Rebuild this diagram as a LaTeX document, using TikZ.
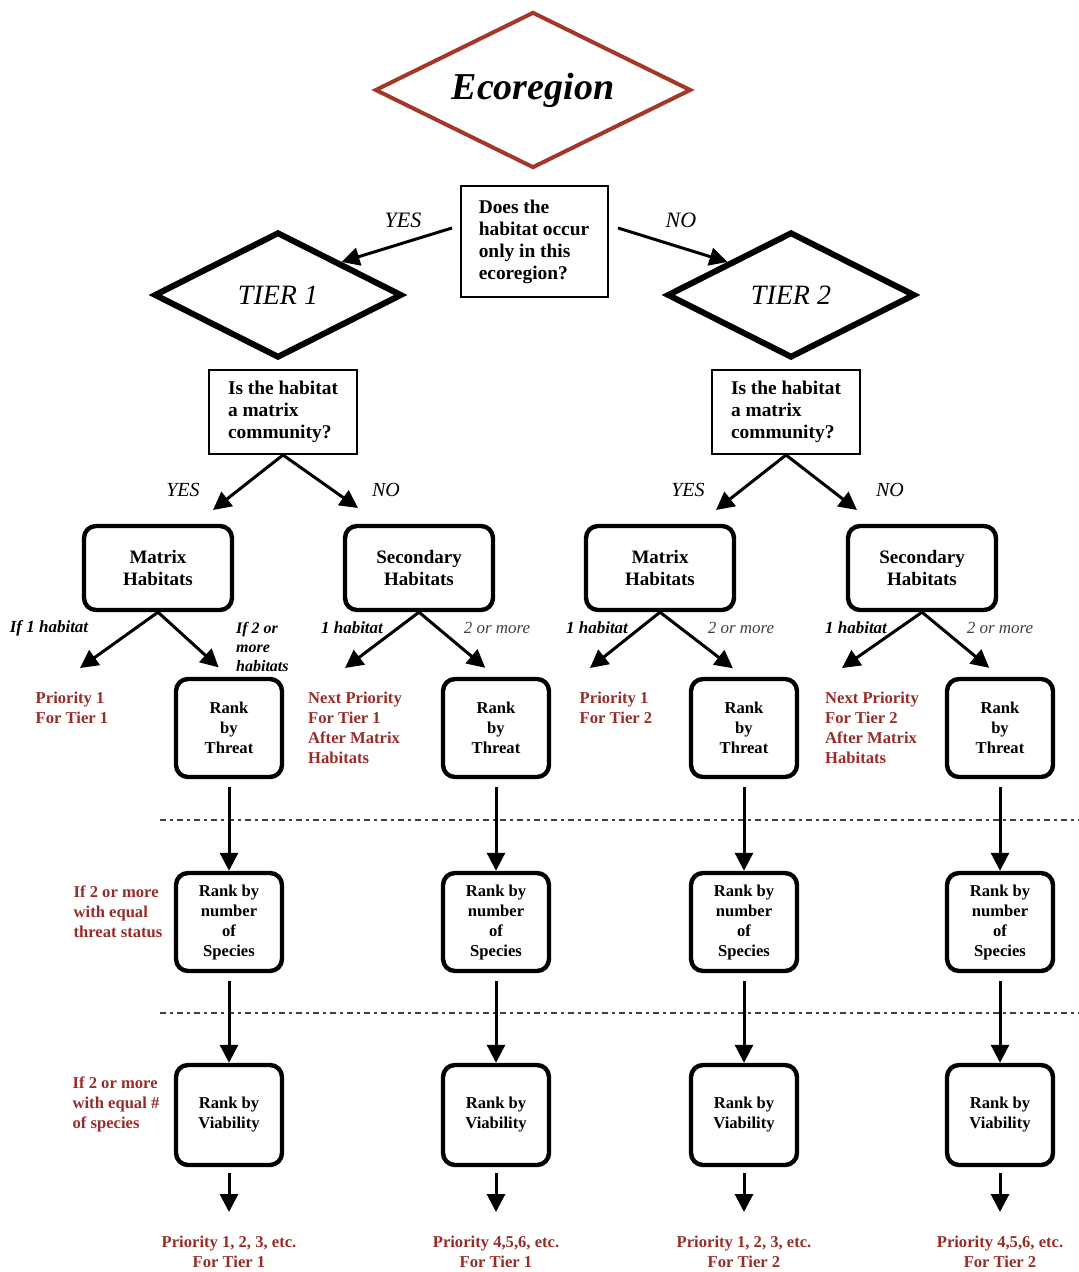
\documentclass[tikz,border=0pt]{standalone}
\usepackage{fontspec}
\setmainfont{Liberation Serif}
\usepackage{tikz}
\usetikzlibrary{arrows.meta}
\usetikzlibrary{shapes.geometric}

\definecolor{prio}{RGB}{150,45,40}
\definecolor{ecoline}{RGB}{165,55,40}

\begin{document}
\begin{tikzpicture}[x=0.5pt,y=-0.5pt,
  >={Triangle[length=9pt,width=9pt]},line width=1.5pt,
  tier/.style={diamond,draw,line width=3pt,inner sep=0pt,aspect=2,minimum width=124pt,minimum height=63pt,font=\fontsize{14}{16}\selectfont\itshape},
  ask/.style={draw,rectangle,line width=1pt,align=left,minimum width=74pt,minimum height=42pt,font=\fontsize{9.7}{11}\selectfont\bfseries},
  hab/.style={draw,rectangle,rounded corners=6pt,line width=2.2pt,align=center,minimum width=74pt,minimum height=42pt,font=\fontsize{9.5}{11}\selectfont\bfseries},
  rankbox/.style={draw,rectangle,rounded corners=6pt,line width=2.2pt,align=center,minimum width=53pt,minimum height=49pt,font=\fontsize{8.3}{10}\selectfont\bfseries},
  answer/.style={font=\fontsize{10}{12}\selectfont\itshape},
  branch/.style={font=\fontsize{8.5}{10}\selectfont\bfseries\itshape},
  more/.style={text=black!75,font=\fontsize{8.5}{10}\selectfont\itshape},
  prio/.style={text=prio,align=left,font=\fontsize{8.3}{10}\selectfont\bfseries}]
  \tikzstyle{flow}=[->,line width=1.5pt]

  \useasboundingbox (0,0) rectangle (1079,1272);

  % top of the tree
  \node[diamond,draw=ecoline,line width=2pt,inner sep=0pt,aspect=2,minimum width=158pt,minimum height=78pt,
    font=\fontsize{19}{22}\selectfont\bfseries\itshape] (eco) at (533,90) {Ecoregion};
  \node[ask,minimum width=73.5pt,minimum height=55.5pt] (q0) at (534,242)
    {Does the\\habitat occur\\only in this\\ecoregion?};
  \node[tier] (tier1) at (278,295) {TIER 1};
  \node[tier] (tier2) at (791,295) {TIER 2};
  \coordinate (q0yes) at (452,228);
  \coordinate (q0no) at (618,228);
  \draw[flow] (q0yes) -- (tier1.north east);
  \draw[flow] (q0no) -- (tier2.north west);
  \node[answer,font=\fontsize{11}{13}\selectfont\itshape] (yes0) at (403,220) {YES};
  \node[answer,font=\fontsize{11}{13}\selectfont\itshape] (no0) at (681,220) {NO};

  % matrix question
  \node[ask] (q1) at (283,412) {Is the habitat\\a matrix\\community?};
  \node[ask] (q2) at (786,412) {Is the habitat\\a matrix\\community?};
  \coordinate (q1yes) at (213,510);
  \coordinate (q1no) at (358,508);
  \coordinate (q2yes) at (716,510);
  \coordinate (q2no) at (857,510);
  \draw[flow] (q1.south) -- (q1yes);
  \draw[flow] (q1.south) -- (q1no);
  \draw[flow] (q2.south) -- (q2yes);
  \draw[flow] (q2.south) -- (q2no);
  \node[answer] (yes1) at (183,490) {YES};
  \node[answer] (no1) at (386,490) {NO};
  \node[answer] (yes2) at (688,490) {YES};
  \node[answer] (no2) at (890,490) {NO};

  % habitats
  \node[hab] (mat1) at (158,568) {Matrix\\Habitats};
  \node[hab] (sec1) at (419,568) {Secondary\\Habitats};
  \node[hab] (mat2) at (660,568) {Matrix\\Habitats};
  \node[hab] (sec2) at (922,568) {Secondary\\Habitats};

  % rank by threat
  \node[rankbox] (thr1) at (229,728) {Rank\\by\\Threat};
  \node[rankbox] (thr2) at (496,728) {Rank\\by\\Threat};
  \node[rankbox] (thr3) at (744,728) {Rank\\by\\Threat};
  \node[rankbox] (thr4) at (1000,728) {Rank\\by\\Threat};

  \coordinate (one1) at (80,668);
  \coordinate (one2) at (345,668);
  \coordinate (one3) at (590,668);
  \coordinate (one4) at (842,668);
  \draw[flow] (mat1.south) -- (one1);
  \draw[flow] (sec1.south) -- (one2);
  \draw[flow] (mat2.south) -- (one3);
  \draw[flow] (sec2.south) -- (one4);
  \draw[flow,shorten >=7pt] (mat1.south) -- (thr1.north);
  \draw[flow,shorten >=7pt] (sec1.south) -- (thr2.north);
  \draw[flow,shorten >=7pt] (mat2.south) -- (thr3.north);
  \draw[flow,shorten >=7pt] (sec2.south) -- (thr4.north);

  \node[branch] (lone1) at (49,628) {If 1 habitat};
  \node[branch,align=left,anchor=north west,font=\fontsize{8}{9.5}\selectfont\bfseries\itshape] (lmore1) at (228,614) {If 2 or\\more\\habitats};
  \node[branch] (lone2) at (352,628) {1 habitat};
  \node[more] (lmore2) at (497,628) {2 or more};
  \node[branch] (lone3) at (597,628) {1 habitat};
  \node[more] (lmore3) at (741,628) {2 or more};
  \node[branch] (lone4) at (856,628) {1 habitat};
  \node[more] (lmore4) at (1000,628) {2 or more};

  \node[prio] (p1) at (72,708) {Priority 1\\For Tier 1};
  \node[prio] (p2) at (355,728) {Next Priority\\For Tier 1\\After Matrix\\Habitats};
  \node[prio] (p3) at (616,708) {Priority 1\\For Tier 2};
  \node[prio] (p4) at (872,728) {Next Priority\\For Tier 2\\After Matrix\\Habitats};

  % separators
  \draw[dash dot,line width=0.8pt,black!75] (160,820) -- (1079,820);
  \draw[dash dot,line width=0.8pt,black!75] (160,1013) -- (1079,1013);

  % rank by number of species
  \node[rankbox] (num1) at (229,922) {Rank by\\number\\of\\Species};
  \node[rankbox] (num2) at (496,922) {Rank by\\number\\of\\Species};
  \node[rankbox] (num3) at (744,922) {Rank by\\number\\of\\Species};
  \node[rankbox] (num4) at (1000,922) {Rank by\\number\\of\\Species};
  \node[prio] (tie1) at (118,912) {If 2 or more\\with equal\\threat status};

  % rank by viability
  \node[rankbox,minimum height=50pt] (via1) at (229,1115) {Rank by\\Viability};
  \node[rankbox,minimum height=50pt] (via2) at (496,1115) {Rank by\\Viability};
  \node[rankbox,minimum height=50pt] (via3) at (744,1115) {Rank by\\Viability};
  \node[rankbox,minimum height=50pt] (via4) at (1000,1115) {Rank by\\Viability};
  \node[prio] (tie2) at (116,1104) {If 2 or more\\with equal \#\\of species};

  \draw[flow,shorten <=4pt] (thr1.south) -- (num1.north);
  \draw[flow,shorten <=4pt] (thr2.south) -- (num2.north);
  \draw[flow,shorten <=4pt] (thr3.south) -- (num3.north);
  \draw[flow,shorten <=4pt] (thr4.south) -- (num4.north);
  \draw[flow,shorten <=4pt] (num1.south) -- (via1.north);
  \draw[flow,shorten <=4pt] (num2.south) -- (via2.north);
  \draw[flow,shorten <=4pt] (num3.south) -- (via3.north);
  \draw[flow,shorten <=4pt] (num4.south) -- (via4.north);

  % final priorities
  \node[prio,align=center] (fin1) at (229,1252) {Priority 1, 2, 3, etc.\\For Tier 1};
  \node[prio,align=center] (fin2) at (496,1252) {Priority 4,5,6, etc.\\For Tier 1};
  \node[prio,align=center] (fin3) at (744,1252) {Priority 1, 2, 3, etc.\\For Tier 2};
  \node[prio,align=center] (fin4) at (1000,1252) {Priority 4,5,6, etc.\\For Tier 2};
  \draw[flow,shorten <=3pt,shorten >=8pt] (via1.south) -- (fin1.north);
  \draw[flow,shorten <=3pt,shorten >=8pt] (via2.south) -- (fin2.north);
  \draw[flow,shorten <=3pt,shorten >=8pt] (via3.south) -- (fin3.north);
  \draw[flow,shorten <=3pt,shorten >=8pt] (via4.south) -- (fin4.north);

\end{tikzpicture}
\end{document}
